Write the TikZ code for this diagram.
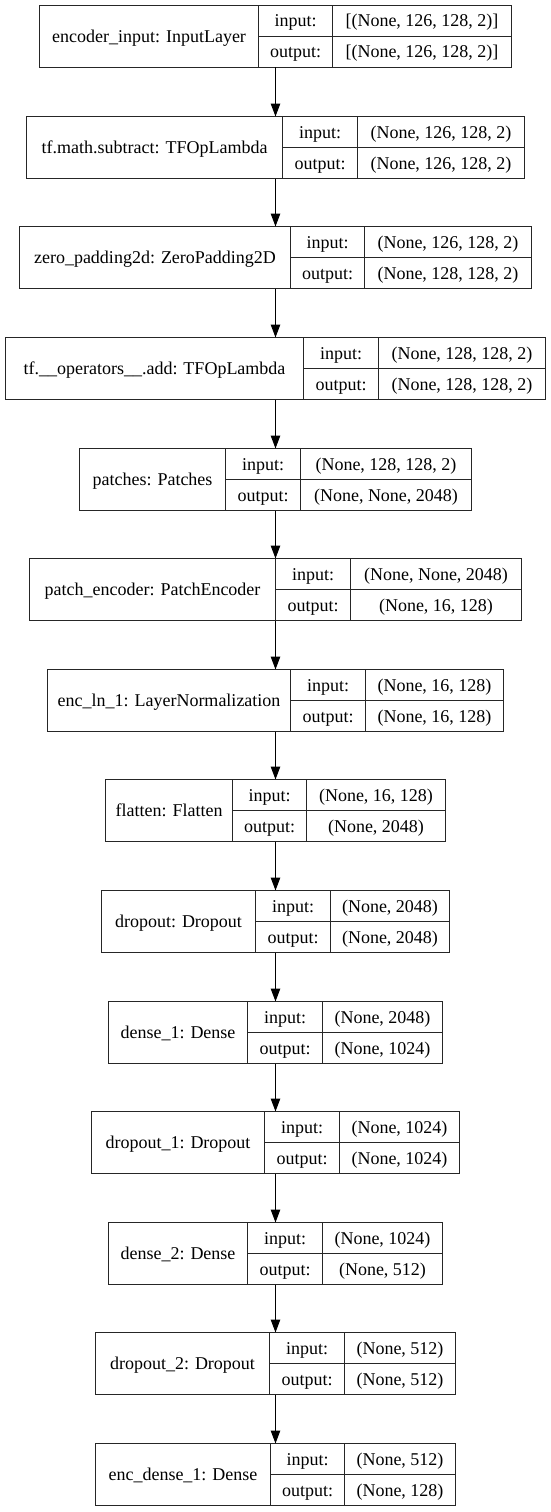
\documentclass[tikz,border=0pt]{standalone}
\usepackage{fontspec}
\setmainfont{Liberation Serif}
\usetikzlibrary{arrows.meta}
\tikzset{
  boxst/.style={draw=black!85, line width=1pt, inner sep=0pt, outer sep=0pt, anchor=north west, minimum height=62pt},
  rulest/.style={draw=black!85, line width=1pt},
  txt/.style={inner sep=0pt, font=\fontsize{18}{21}\selectfont, anchor=base},
  arr/.style={draw=black, line width=1pt, -{Triangle[length=13pt,width=9.5pt]}},
}
% #1 name, #2 top, #3 left, #4 div1, #5 div2, #6 right, #7 label, #8 input shape, #9 output shape
\newcommand\layerbox[9]{%
  \node[boxst, minimum width={(#6-#3)*1pt}] (#1) at (#3,#2) {};
  \draw[rulest] (#4,#2) -- (#4,{#2+62});
  \draw[rulest] (#5,#2) -- (#5,{#2+62});
  \draw[rulest] (#4,{#2+31}) -- (#6,{#2+31});
  \node[txt] (#1-l) at ({(#3+#4)/2},{#2+31+6}) {#7};
  \node[txt] (#1-ik) at ({(#4+#5)/2},{#2+15.5+6}) {input:};
  \node[txt] (#1-ok) at ({(#4+#5)/2},{#2+46.5+6}) {output:};
  \node[txt] (#1-iv) at ({(#5+#6)/2},{#2+15.5+6}) {#8};
  \node[txt] (#1-ov) at ({(#5+#6)/2},{#2+46.5+6}) {#9};
}
\begin{document}
\begin{tikzpicture}[x=1pt,y=-1pt]
\useasboundingbox[fill=white] (0,0) rectangle (551,1512);
\layerbox{b1}{5.5}{39.5}{258.5}{332.5}{511.5}{encoder\_input: InputLayer}{[(None, 126, 128, 2)]}{[(None, 126, 128, 2)]}
\layerbox{b2}{116.5}{26.5}{282.5}{357.5}{524.5}{tf.math.subtract: TFOpLambda}{(None, 126, 128, 2)}{(None, 126, 128, 2)}
\layerbox{b3}{226.5}{19.5}{290.5}{364.5}{531.5}{zero\_padding2d: ZeroPadding2D}{(None, 126, 128, 2)}{(None, 128, 128, 2)}
\layerbox{b4}{337.5}{5.5}{303.5}{378.5}{545.5}{tf.\_\_operators\_\_.add: TFOpLambda}{(None, 128, 128, 2)}{(None, 128, 128, 2)}
\layerbox{b5}{448.5}{79.5}{225.5}{300.5}{471.5}{patches: Patches}{(None, 128, 128, 2)}{(None, None, 2048)}
\layerbox{b6}{558.5}{29.5}{275.5}{350.5}{521.5}{patch\_encoder: PatchEncoder}{(None, None, 2048)}{(None, 16, 128)}
\layerbox{b7}{669.5}{47.5}{290.5}{365.5}{503.5}{enc\_ln\_1: LayerNormalization}{(None, 16, 128)}{(None, 16, 128)}
\layerbox{b8}{779.5}{105.5}{232.5}{306.5}{445.5}{flatten: Flatten}{(None, 16, 128)}{(None, 2048)}
\layerbox{b9}{890.5}{101.5}{255.5}{330.5}{449.5}{dropout: Dropout}{(None, 2048)}{(None, 2048)}
\layerbox{b10}{1001.5}{108.5}{247.5}{322.5}{442.5}{dense\_1: Dense}{(None, 2048)}{(None, 1024)}
\layerbox{b11}{1111.5}{91.5}{264.5}{339.5}{459.5}{dropout\_1: Dropout}{(None, 1024)}{(None, 1024)}
\layerbox{b12}{1222.5}{108.5}{247.5}{322.5}{442.5}{dense\_2: Dense}{(None, 1024)}{(None, 512)}
\layerbox{b13}{1332.5}{95.5}{269.5}{344.5}{455.5}{dropout\_2: Dropout}{(None, 512)}{(None, 512)}
\layerbox{b14}{1443.5}{95.5}{270.5}{344.5}{455.5}{enc\_dense\_1: Dense}{(None, 512)}{(None, 128)}
\foreach \a/\b in {b1/b2,b2/b3,b3/b4,b4/b5,b5/b6,b6/b7,b7/b8,b8/b9,b9/b10,b10/b11,b11/b12,b12/b13,b13/b14}{
  \draw[arr] (\a.south) -- (\a.south |- \b.north);
}
\end{tikzpicture}
\end{document}
